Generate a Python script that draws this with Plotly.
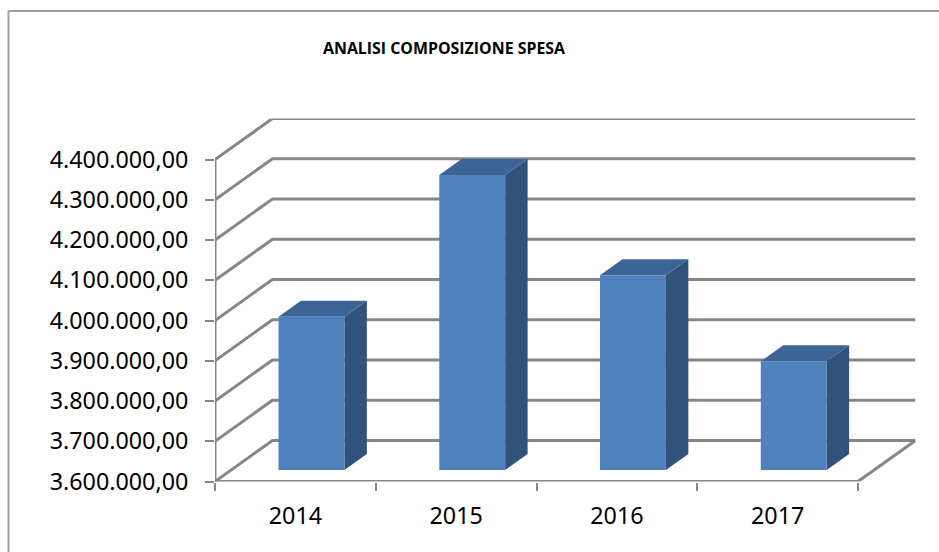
import plotly.graph_objects as go

categories = ["2014", "2015", "2016", "2017"]
values = [3981000, 4333000, 4084000, 3870000]
y_ticks = [3600000, 3700000, 3800000, 3900000, 4000000, 4100000, 4200000, 4300000, 4400000]
y_labels = ["3.600.000,00", "3.700.000,00", "3.800.000,00", "3.900.000,00", "4.000.000,00",
            "4.100.000,00", "4.200.000,00", "4.300.000,00", "4.400.000,00"]
title = "ANALISI COMPOSIZIONE SPESA"

W, H = 939, 552
PX_L, PX_FR, PX_R = 215.0, 858.0, 915.5      # left, front-right, back-right
PX_T, PX_B = 118.5, 481.5                    # back-top, front-bottom
PX_PER_CAT = (PX_FR - PX_L) / 4
PX_PER_VAL = (481.5 - 160.0) / 800000
DX = (PX_R - PX_FR) / PX_PER_CAT             # projected depth in x units
DY = 41.0 / PX_PER_VAL                       # projected depth in y units
Y0, YMAX = y_ticks[0], y_ticks[-1]
F_FRONT, F_BACK = 0.28, 0.67                 # bar front / back position in depth
BAR_W = 0.41
GRID = "#868686"

x_lo, x_hi = -0.5, 3.5

fig = go.Figure()


def poly(xs, ys, color):
    fig.add_trace(go.Scatter(x=xs, y=ys, mode="lines", fill="toself", fillcolor=color,
                             line=dict(width=0, color=color), hoverinfo="skip", showlegend=False))


def line(xs, ys):
    fig.add_trace(go.Scatter(x=xs, y=ys, mode="lines", line=dict(color=GRID, width=3),
                             hoverinfo="skip", showlegend=False))


# walls: grid lines on the side wall and the back wall
for t in y_ticks:
    line([x_lo, x_lo + DX, x_hi + DX], [t, t + DY, t + DY])
# left axis, floor front edge and floor right edge
line([x_lo, x_lo], [Y0, YMAX])
line([x_lo, x_hi, x_hi + DX], [Y0, Y0, Y0 + DY])

# bars
for i, v in enumerate(values):
    x0 = i - BAR_W / 2 + F_FRONT * DX
    x1 = i + BAR_W / 2 + F_FRONT * DX
    ox = (F_BACK - F_FRONT) * DX
    oy = (F_BACK - F_FRONT) * DY
    b = Y0 + F_FRONT * DY
    t = v + F_FRONT * DY
    poly([x1, x1 + ox, x1 + ox, x1, x1], [b, b + oy, t + oy, t, b], "#31527B")
    poly([x0, x0 + ox, x1 + ox, x1, x0], [t, t + oy, t + oy, t, t], "#3C6494")
    poly([x0, x1, x1, x0, x0], [b, b, t, t, b], "#4F81BD")

fig.update_layout(
    width=W, height=H, autosize=False,
    margin=dict(l=0, r=0, t=0, b=0),
    paper_bgcolor="white", plot_bgcolor="white",
    showlegend=False,
    font=dict(family="Noto Sans", color="#000000", size=23.3),
    xaxis=dict(
        domain=[PX_L / W, PX_R / W], automargin=False,
        range=[x_lo, x_hi + DX],
        tickmode="array", tickvals=list(range(len(categories))), ticktext=categories,
        ticks="", showgrid=False, zeroline=False, showline=False,
        ticklabelstandoff=18,
        minor=dict(tickmode="array", tickvals=[-0.5, 0.5, 1.5, 2.5, 3.5], ticks="outside",
                   ticklen=8, tickwidth=1.5, tickcolor=GRID, showgrid=False),
    ),
    yaxis=dict(
        domain=[1 - PX_B / H, 1 - PX_T / H], automargin=False,
        range=[Y0, YMAX + DY],
        tickmode="array", tickvals=y_ticks, ticktext=y_labels,
        ticks="outside", ticklen=9, tickwidth=1.5, tickcolor=GRID,
        showgrid=False, zeroline=False, showline=False,
        ticklabelstandoff=12,
    ),
    annotations=[dict(text="<b>" + title + "</b>", xref="paper", yref="paper",
                      x=444 / W, y=1 - 48 / H, showarrow=False, xanchor="center", yanchor="middle",
                      font=dict(family="Open Sans", size=15.9, color="#000000"))],
    shapes=[dict(type="line", xref="paper", yref="paper", x0=8.5 / W, x1=8.5 / W, y0=0, y1=1 - 11 / H,
                 line=dict(color="#A0A0A0", width=2)),
            dict(type="line", xref="paper", yref="paper", x0=8.5 / W, x1=1, y0=1 - 11 / H, y1=1 - 11 / H,
                 line=dict(color="#A0A0A0", width=2))],
)

fig.write_html("out.html", config=dict(displayModeBar=False, responsive=False),
               default_width=f"{W}px", default_height=f"{H}px",
               post_script="document.body.style.margin='0';document.body.style.overflow='hidden';")
